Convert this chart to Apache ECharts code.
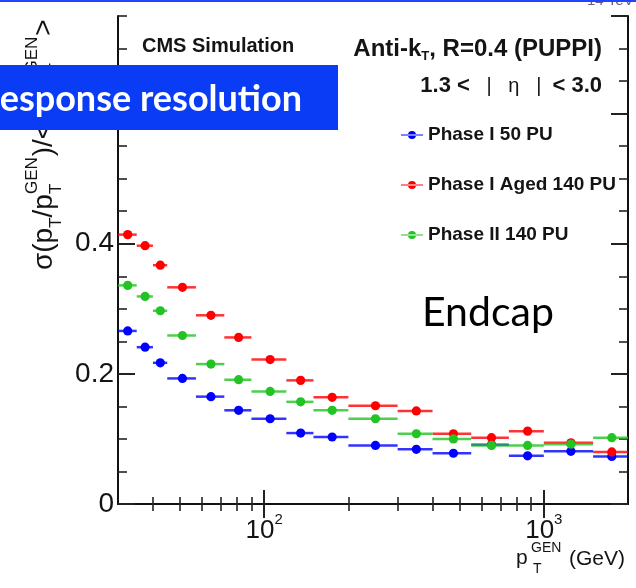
<!DOCTYPE html>
<html><head><meta charset="utf-8">
<script src="https://cdn.jsdelivr.net/npm/echarts@6/dist/echarts.min.js"></script>
<style>html,body{margin:0;padding:0;background:#fff}#c{width:636px;height:588px}</style>
</head><body><div id="c"></div>
<script>
// ---- data ----
const ptX   = [32.5, 37.5, 42.5, 51, 64.5, 81, 105, 135, 175, 250, 350, 475, 650, 875, 1250, 1750];
const binLo = [30, 35, 40, 45, 57, 72, 90, 120, 150, 200, 300, 400, 550, 750, 1000, 1500];
const binHi = [35, 40, 45, 57, 72, 90, 120, 150, 200, 300, 400, 550, 750, 1000, 1500, 2000];
const phaseI_50PU      = [0.266, 0.241, 0.217, 0.193, 0.165, 0.144, 0.131, 0.109, 0.103, 0.090, 0.084, 0.078, 0.091, 0.074, 0.081, 0.073];
const phaseIAged_140PU = [0.414, 0.397, 0.367, 0.333, 0.290, 0.256, 0.222, 0.190, 0.164, 0.151, 0.143, 0.108, 0.102, 0.112, 0.094, 0.080];
const phaseII_140PU    = [0.336, 0.319, 0.297, 0.259, 0.215, 0.191, 0.173, 0.157, 0.144, 0.131, 0.108, 0.100, 0.090, 0.090, 0.092, 0.102];
const seriesNames = ['Phase I 50 PU', 'Phase I Aged 140 PU', 'Phase II 140 PU'];
const seriesColors = ['#0000ff', '#ff0000', '#22c322'];
const xMajorTicks = [100, 1000];
const xMinorTicks = [40, 50, 60, 70, 80, 90, 200, 300, 400, 500, 600, 700, 800, 900];
const xRange = [30, 2000];
const yRange = [0, 0.75];
const yMajorStep = 0.2;
const yMinorStep = 0.05;

// ---- chart ----
const FONT = '"Liberation Sans", Arial, Helvetica, sans-serif';
const INK = '#141414';
const chart = echarts.init(document.getElementById('c'), null, {renderer: 'canvas', width: 636, height: 588});

const gridRect = {left: 118, right: 8, top: 16, bottom: 84, containLabel: false};
const frameLine = {show: true, lineStyle: {color: '#111', width: 2}};
const noLine = {show: false};

function xAx(grid, pos, ticks, len, w, labels) {
  return {
    type: 'log', logBase: 10, min: xRange[0], max: xRange[1], gridIndex: grid, position: pos,
    splitLine: {show: false}, minorTick: {show: false}, minorSplitLine: {show: false},
    axisLine: grid === 0 ? frameLine : noLine,
    axisTick: {show: true, inside: true, length: len, customValues: ticks, lineStyle: {color: '#222', width: w}},
    axisLabel: labels ? {
      show: true, customValues: ticks, margin: 8, hideOverlap: false,
      formatter: v => '{b|10}{s|' + Math.round(Math.log10(v)) + '}',
      rich: {
        b: {fontSize: 26, fontFamily: FONT, color: INK},
        s: {fontSize: 15, fontFamily: FONT, color: INK, padding: [0, 0, 23, 0]}
      }
    } : {show: false}
  };
}
function yAx(grid, pos, step, len, w, labels) {
  return {
    type: 'value', min: yRange[0], max: yRange[1], interval: step, gridIndex: grid, position: pos,
    splitLine: {show: false}, minorTick: {show: false},
    axisLine: grid === 0 ? frameLine : noLine,
    axisTick: {show: true, inside: true, length: len, lineStyle: {color: '#222', width: w}},
    axisLabel: labels ? {
      show: true, margin: 4, fontSize: 28, fontFamily: FONT, color: INK, hideOverlap: false,
      showMaxLabel: false,
      formatter: v => (Math.abs(v - yRange[1]) < 1e-9 ? '' : (v === 0 ? '0' : v.toFixed(1)))
    } : {show: false}
  };
}

function mkSeries(idx, vals) {
  const color = seriesColors[idx];
  return {
    type: 'custom', name: seriesNames[idx], coordinateSystem: 'cartesian2d',
    xAxisIndex: 0, yAxisIndex: 0, clip: true, z: 3 + idx,
    itemStyle: {color: color},
    encode: {x: [0, 2, 3], y: 1},
    data: ptX.map((x, i) => [x, vals[i], binLo[i], binHi[i]]),
    renderItem: (params, api) => {
      const c = api.coord([api.value(0), api.value(1)]);
      const a = api.coord([api.value(2), api.value(1)]);
      const b = api.coord([api.value(3), api.value(1)]);
      return {type: 'group', children: [
        {type: 'line', shape: {x1: a[0], y1: a[1], x2: b[0], y2: b[1]}, style: {stroke: color, lineWidth: 2.5, opacity: 0.8}},
        {type: 'circle', shape: {cx: c[0], cy: c[1], r: 4.6}, style: {fill: color}}
      ]};
    }
  };
}

// ---- rotated y-axis title built from measured pieces ----
const mctx = document.createElement('canvas').getContext('2d');
function tw(text, size) { mctx.font = size + 'px ' + FONT; return mctx.measureText(text).width; }
const YT_MAIN = 28, YT_SCR = 17;
const yTitleParts = [['σ(p', 'm'], ['T', 'sub'], ['/p', 'm'], ['T|GEN', 'stack'], [')/<p', 'm'], ['T', 'sub'], ['/p', 'm'], ['T|GEN', 'stack'], ['>', 'm']];
const yTitleChildren = [];
(function () {
  let cur = 0;
  const mk = (t, x, y, size) => ({type: 'text', x: x, y: y, style: {text: t, fontSize: size, fontFamily: FONT, fill: INK, align: 'left', verticalAlign: 'middle', textAlign: 'left', textVerticalAlign: 'middle'}});
  yTitleParts.forEach(([t, k]) => {
    if (k === 'm') { yTitleChildren.push(mk(t, cur, 0, YT_MAIN)); cur += tw(t, YT_MAIN); }
    else if (k === 'sub') { yTitleChildren.push(mk(t, cur, 12, YT_SCR)); cur += tw(t, YT_SCR); }
    else {
      const [s1, s2] = t.split('|');
      yTitleChildren.push(mk(s1, cur, 12, YT_SCR));
      yTitleChildren.push(mk(s2, cur, -12, YT_SCR));
      cur += Math.max(tw(s1, YT_SCR), tw(s2, YT_SCR)) + 1;
    }
  });
})();

function txt(t, x, y, o) {
  return Object.assign({type: 'text', x: x, y: y, z: 50, style: Object.assign({
    text: t, fontFamily: FONT, fill: INK, align: 'left', verticalAlign: 'middle', textAlign: 'left', textVerticalAlign: 'middle'
  }, o || {})});
}

const option = {
  animation: false,
  backgroundColor: '#ffffff',
  grid: [Object.assign({}, gridRect), Object.assign({}, gridRect)],
  xAxis: [
    xAx(0, 'bottom', xMajorTicks, 14, 2, true),
    xAx(0, 'top', xMajorTicks, 14, 2, false),
    xAx(1, 'bottom', xMinorTicks, 7, 1.6, false),
    xAx(1, 'top', xMinorTicks, 7, 1.6, false)
  ],
  yAxis: [
    yAx(0, 'left', yMajorStep, 17, 2, true),
    yAx(0, 'right', yMajorStep, 17, 2, false),
    yAx(1, 'left', yMinorStep, 9, 1.6, false),
    yAx(1, 'right', yMinorStep, 9, 1.6, false)
  ],
  legend: {
    show: true, orient: 'vertical', left: 396, top: 120, itemWidth: 22, itemHeight: 8, itemGap: 30,
    selectedMode: false,
    textStyle: {fontSize: 19, fontWeight: 'bold', fontFamily: FONT, color: INK, lineHeight: 20},
    data: seriesNames.map(n => ({name: n, icon: 'path://M0,3.4h22v1.2h-22z M7,4a4,4 0 1,0 8,0a4,4 0 1,0 -8,0z'}))
  },
  series: [mkSeries(0, phaseI_50PU), mkSeries(1, phaseIAged_140PU), mkSeries(2, phaseII_140PU)],
  graphic: [
    // top blue rule and clipped energy label
    {type: 'rect', shape: {x: 0, y: 0, width: 636, height: 2}, style: {fill: '#2244ff'}, z: 100},
    txt('14 TeV', 587, 1, {fontSize: 15, fill: '#6a5c86'}),
    // header texts
    txt('CMS Simulation', 142, 46, {fontSize: 20, fontWeight: 'bold'}),
    txt('{b|Anti-k}{t|T}{b|, R=0.4 (PUPPI)}', 602, 49, {align: 'right', textAlign: 'right', rich: {
      b: {fontSize: 24, fontWeight: 'bold', fontFamily: FONT, color: INK},
      t: {fontSize: 13, fontWeight: 'bold', fontFamily: FONT, color: INK, padding: [14, 0, 0, 0]}
    }}),
    txt('{b|1.3 <}{r|   |   η   |  }{b|< 3.0}', 602, 86, {align: 'right', textAlign: 'right', rich: {
      b: {fontSize: 22, fontWeight: 'bold', fontFamily: FONT, color: INK},
      r: {fontSize: 20, fontFamily: FONT, color: '#333'}
    }}),
    txt('Endcap', 422, 313, {fontSize: 41, fontFamily: 'Lato, "Open Sans", sans-serif', fill: '#000'}),
    // x-axis title
    txt('p', 516, 558, {fontSize: 21}),
    txt('GEN', 531, 548, {fontSize: 14}),
    txt('T', 533, 569, {fontSize: 14}),
    txt('(GeV)', 569, 559, {fontSize: 21}),
    // y-axis title (rotated, reads bottom to top)
    {type: 'group', x: 44, y: 270, rotation: Math.PI / 2, z: 40, children: yTitleChildren},
    // slide banner overlapping the plot
    {type: 'rect', shape: {x: 0, y: 65, width: 338, height: 65}, style: {fill: '#0a3cf5'}, z: 200},
    {type: 'text', x: 302, y: 99, z: 201, style: {text: 'esponse resolution', fontSize: 36, fontWeight: 'bold', fontFamily: 'Lato, "Open Sans", sans-serif', fill: '#ffffff', align: 'right', verticalAlign: 'middle', textAlign: 'right', textVerticalAlign: 'middle'}}
  ]
};
chart.setOption(option);
</script>
</body></html>
